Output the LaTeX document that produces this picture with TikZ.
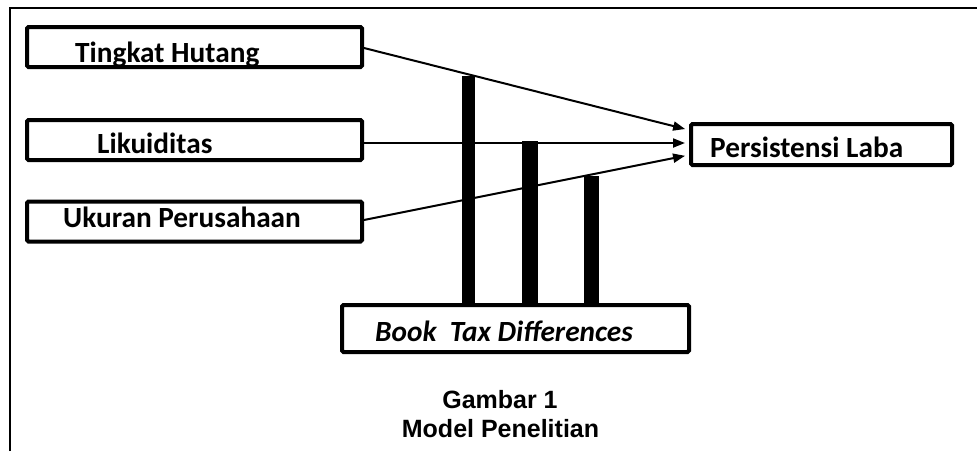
\documentclass[tikz,border=0pt]{standalone}
\usepackage{fontspec}
\setmainfont{Carlito}
\newfontfamily\capfont{Liberation Sans}
\usetikzlibrary{arrows.meta}
\begin{document}
\begin{tikzpicture}[x=1pt,y=-1pt,
  box/.style={draw, line width=4pt, rounded corners=1.5pt, rectangle, inner sep=0pt, anchor=north west},
  lbl/.style={anchor=base west, inner sep=0pt, font=\fontsize{29.3}{32}\selectfont\bfseries},
  caplbl/.style={anchor=base, inner sep=0pt, font=\capfont\fontsize{25}{29}\selectfont\bfseries},
  conn/.style={line width=2pt, -{Triangle[length=12pt,width=9pt]}, shorten >=4pt},
  barfill/.style={fill=black}]
\useasboundingbox (0,0) rectangle (977,451);
\draw[line width=2.8pt] (10,451) -- (10,8) -- (977,8);
% boxes
\node[box, minimum width=335pt, minimum height=40pt] (th) at (25,25) {};
\node[box, minimum width=335pt, minimum height=40pt] (li) at (25,118) {};
\node[box, minimum width=335pt, minimum height=40pt] (uk) at (25,199.5) {};
\node[box, minimum width=261pt, minimum height=41pt] (pl) at (689,122) {};
\node[box, minimum width=347pt, minimum height=47pt] (btd) at (340,303) {};
% labels
\node[lbl] (tht) at (75,62) {Tingkat Hutang};
\node[lbl] (lit) at (97,153) {Likuiditas};
\node[lbl] (ukt) at (63,227) {Ukuran Perusahaan};
\node[lbl] (plt) at (710,157) {Persistensi Laba};
\node[lbl, font=\fontsize{29.3}{32}\selectfont\bfseries\itshape] (btdt) at (375,341) {Book\ \ Tax Differences};
% bars
\fill[barfill] (462,76) rectangle (475,303);
\fill[barfill] (522,141) rectangle (538,303);
\fill[barfill] (584,176) rectangle (599,303);
% connectors
\draw[conn] ([yshift=-1pt]th.east) -- ([yshift=14.5pt]pl.west);
\draw[conn] ([yshift=-3pt]li.east) -- ([yshift=1.5pt]pl.west);
\draw[conn] ([yshift=1.5pt]uk.east) -- ([yshift=-10.5pt]pl.west);
% caption
\node[caplbl] (cap1) at (500,408) {Gambar 1};
\node[caplbl] (cap2) at (500.5,437) {Model Penelitian};
\end{tikzpicture}
\end{document}
